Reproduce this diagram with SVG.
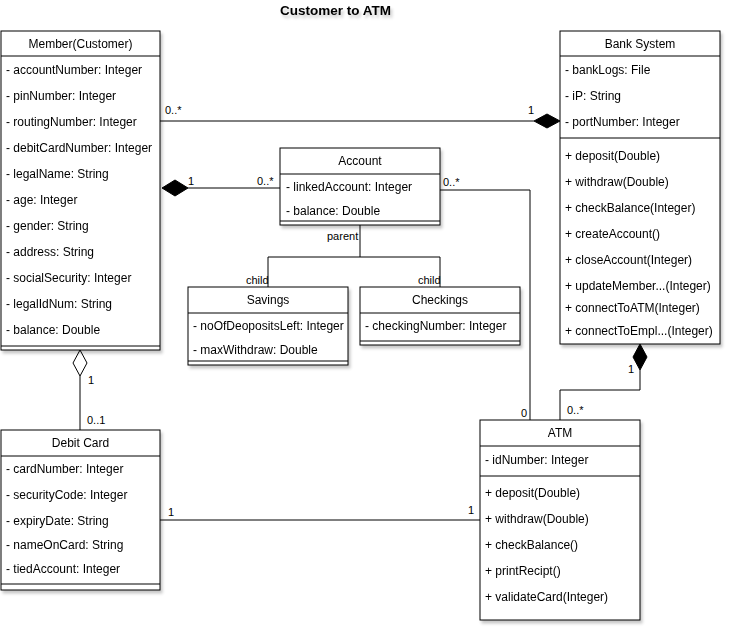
<svg xmlns="http://www.w3.org/2000/svg" width="732" height="632" viewBox="0 0 732 632">
<style>
.box{fill:#fff;stroke:#000;stroke-width:1}
.ln{fill:none;stroke:#000;stroke-width:1}
text{font-family:"Liberation Sans",Arial,sans-serif;font-size:12px;fill:#000}
.h{text-anchor:middle}
.lb{font-size:11px}
.t{font-size:13.5px;font-weight:bold;text-anchor:middle}
</style>
<defs>
<filter id="sh" x="-10%" y="-10%" width="130%" height="130%">
<feDropShadow dx="2" dy="3" stdDeviation="1.5" flood-color="#000" flood-opacity="0.22"/>
</filter>
</defs>
<rect width="732" height="632" fill="#fff"/>
<text class="t" x="335.5" y="15" filter="url(#sh)">Customer to ATM</text>

<g id="connectors">
<g id="member-bank">
<path class="ln" d="M160 121H534"/>
<polygon points="560,121 547,114 534,121 547,128" fill="#000" stroke="#000"/>
<text class="lb" x="165" y="114">0..*</text>
<text class="lb" x="528" y="114">1</text>
</g>
<g id="member-account">
<path class="ln" d="M188 188H280"/>
<polygon points="162,188 175,180 188,188 175,196" fill="#000" stroke="#000"/>
<text class="lb" x="188" y="185">1</text>
<text class="lb" x="257" y="185">0..*</text>
</g>
<g id="account-atm">
<path class="ln" d="M440 190H530V420"/>
<rect x="442" y="176" width="20" height="11" fill="#fff"/>
<text class="lb" x="443" y="186">0..*</text>
<text class="lb" x="521" y="417">0</text>
</g>
<g id="account-inherit">
<path class="ln" d="M360 225V257H268V287M360 257H440V287"/>
<text class="lb" x="327" y="240">parent</text>
<text class="lb" x="246" y="284">child</text>
<text class="lb" x="418" y="284">child</text>
</g>
<g id="bank-atm">
<path class="ln" d="M640 370V390H560V420"/>
<polygon points="640,344 647,357 640,370 633,357" fill="#000" stroke="#000"/>
<text class="lb" x="628" y="373">1</text>
<text class="lb" x="567" y="414">0..*</text>
</g>
<g id="member-debit">
<path class="ln" d="M80 376V430"/>
<polygon points="80,350 87,363 80,376 73,363" fill="#fff" stroke="#000"/>
<text class="lb" x="88" y="384">1</text>
<text class="lb" x="87" y="424">0..1</text>
</g>
<g id="debit-atm">
<path class="ln" d="M160 520H480"/>
<text class="lb" x="168" y="516">1</text>
<text class="lb" x="468" y="514">1</text>
</g>
</g>

<g id="member" filter="url(#sh)">
<rect class="box" x="1" y="31" width="159" height="319"/>
<path class="ln" d="M1 56H160M1 346H160"/>
<text class="h" x="80.5" y="47.5">Member(Customer)</text>
<text x="6" y="74">- accountNumber: Integer</text>
<text x="6" y="100">- pinNumber: Integer</text>
<text x="6" y="126">- routingNumber: Integer</text>
<text x="6" y="152">- debitCardNumber: Integer</text>
<text x="6" y="178">- legalName: String</text>
<text x="6" y="204">- age: Integer</text>
<text x="6" y="230">- gender: String</text>
<text x="6" y="256">- address: String</text>
<text x="6" y="282">- socialSecurity: Integer</text>
<text x="6" y="308">- legalIdNum: String</text>
<text x="6" y="334">- balance: Double</text>
</g>

<g id="bank" filter="url(#sh)">
<rect class="box" x="560" y="31" width="160" height="313"/>
<path class="ln" d="M560 56H720M560 138H720"/>
<text class="h" x="640" y="48">Bank System</text>
<text x="565" y="74">- bankLogs: File</text>
<text x="565" y="100">- iP: String</text>
<text x="565" y="126">- portNumber: Integer</text>
<text x="565" y="160">+ deposit(Double)</text>
<text x="565" y="186">+ withdraw(Double)</text>
<text x="565" y="212">+ checkBalance(Integer)</text>
<text x="565" y="238">+ createAccount()</text>
<text x="565" y="264">+ closeAccount(Integer)</text>
<text x="565" y="290">+ updateMember...(Integer)</text>
<text x="565" y="312">+ connectToATM(Integer)</text>
<text x="565" y="335">+ connectToEmpl...(Integer)</text>
</g>

<g id="account" filter="url(#sh)">
<rect class="box" x="280" y="148" width="160" height="77"/>
<path class="ln" d="M280 174H440M280 221H440"/>
<text class="h" x="360" y="165">Account</text>
<text x="286" y="191">- linkedAccount: Integer</text>
<text x="286" y="215">- balance: Double</text>
</g>

<g id="savings" filter="url(#sh)">
<rect class="box" x="188" y="287" width="160" height="78"/>
<path class="ln" d="M188 313H348M188 361H348"/>
<text class="h" x="268" y="304">Savings</text>
<text x="193" y="330">- noOfDeopositsLeft: Integer</text>
<text x="193" y="354">- maxWithdraw: Double</text>
</g>

<g id="checkings" filter="url(#sh)">
<rect class="box" x="360" y="287" width="160" height="58"/>
<path class="ln" d="M360 313H520M360 341H520"/>
<text class="h" x="440" y="304">Checkings</text>
<text x="365" y="330">- checkingNumber: Integer</text>
</g>

<g id="debit" filter="url(#sh)">
<rect class="box" x="1" y="430" width="159" height="160"/>
<path class="ln" d="M1 456H160M1 584H160"/>
<text class="h" x="80.5" y="447">Debit Card</text>
<text x="6" y="473">- cardNumber: Integer</text>
<text x="6" y="499">- securityCode: Integer</text>
<text x="6" y="525">- expiryDate: String</text>
<text x="6" y="549">- nameOnCard: String</text>
<text x="6" y="573">- tiedAccount: Integer</text>
</g>

<g id="atm" filter="url(#sh)">
<rect class="box" x="480" y="420" width="160" height="200"/>
<path class="ln" d="M480 446H640M480 476H640"/>
<text class="h" x="560" y="437">ATM</text>
<text x="485" y="464">- idNumber: Integer</text>
<text x="485" y="497">+ deposit(Double)</text>
<text x="485" y="523">+ withdraw(Double)</text>
<text x="485" y="549">+ checkBalance()</text>
<text x="485" y="575">+ printRecipt()</text>
<text x="485" y="601">+ validateCard(Integer)</text>
</g>
</svg>
